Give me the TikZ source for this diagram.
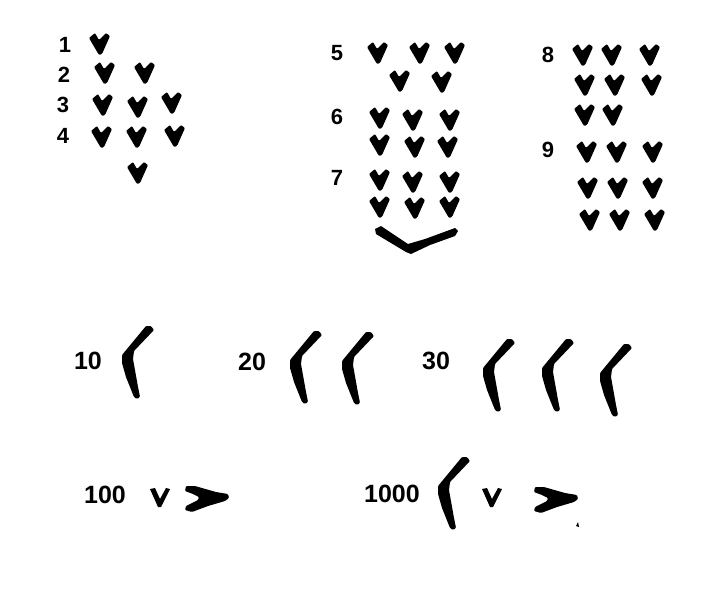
\documentclass[tikz,border=0pt]{standalone}
\usepackage{fontspec}
\setmainfont{Liberation Sans}
\usepackage{tikz}
\usetikzlibrary{positioning}

% upright wedge (units)
\newcommand{\unitwedge}[1]{\fill[shift={#1}, rounded corners=1pt] (-11,-6) -- (-5,-11) -- (-1,-4) -- (6,-11) -- (10,-8) -- (2,10) -- (-1,11) -- cycle;}
% thin upright wedge
\newcommand{\thinwedge}[1]{\fill[shift={#1}] (-10,-8) -- (-5,-9) -- (0,2) -- (6,-9) -- (10,-8) -- (1,10) -- (-2,10) -- cycle;}
% corner wedge (tens), given by its bend
\newcommand{\tenwedge}[1]{\fill[shift={#1}, rounded corners=1pt] (19,-31) -- (24,-31) -- (27,-27) -- (7,-6) -- (6,2) -- (11,30) -- (13,40) -- (10,42) -- (7,40) -- (-1,20) -- (-5,6) -- (-5,-2) -- cycle;}
% lying wedge, given by its tip
\newcommand{\sidewedge}[1]{\fill[shift={#1}, rounded corners=1pt] (-42,-11) -- (-33,-11) -- (-12,-5) -- (0,-3) -- (1,1) -- (-3,4) -- (-20,9) -- (-36,15) -- (-43,13) -- (-42,9) -- (-30,3) -- (-29,0) -- (-35,-3) -- (-43,-6) -- cycle;}

\tikzset{
    numlabel/.style={inner sep=0pt, font=\bfseries\fontsize{22}{22}\selectfont},
    biglabel/.style={inner sep=0pt, font=\bfseries\fontsize{25}{25}\selectfont}
}

\begin{document}
\begin{tikzpicture}[x=1pt, y=-1pt]
    \useasboundingbox[fill=white] (0,0) rectangle (719,595);

    % units 1 to 9
    \node[numlabel] (one) at (65,45) {1};
    \node[numlabel] (two) at (64,75) {2};
    \node[numlabel] (three) at (63,105) {3};
    \node[numlabel] (four) at (63,136) {4};
    \node[numlabel] (five) at (337,53) {5};
    \node[numlabel] (six) at (337,117) {6};
    \node[numlabel] (seven) at (337,178) {7};
    \node[numlabel] (eight) at (548,55) {8};
    \node[numlabel] (nine) at (548,150) {9};

    \foreach \x/\y in {100/44, 105/73, 145/73, 103/105, 138/107, 172/103,
                       102/137, 137/137, 175/136, 138/173}
        \unitwedge{(\x,\y)};
    \foreach \x/\y in {378/53, 420/53, 455/53, 400/81, 442/82,
                       380/118, 413/120, 450/120, 380/145, 415/147, 448/147,
                       380/180, 413/182, 450/182, 380/207, 415/208, 450/207}
        \unitwedge{(\x,\y)};
    \foreach \x/\y in {583/55, 612/55, 650/55, 585/85, 615/85, 652/85, 585/115, 613/115,
                       587/152, 617/152, 653/152, 588/188, 618/188, 653/188,
                       590/220, 620/220, 655/220}
        \unitwedge{(\x,\y)};

    % bracket under 7
    \fill (375,229) -- (381,226) -- (396,236) -- (408,244) -- (425,239) -- (455,228)
        -- (458,231) -- (455,236) -- (430,245) -- (411,254) -- (406,252) -- (391,243)
        -- (376,234) -- cycle;

    % tens
    \node[biglabel] (ten) at (88,361) {10};
    \node[biglabel] (twenty) at (252,362) {20};
    \node[biglabel] (thirty) at (436,361) {30};
    \foreach \x/\y in {127/357, 295/362, 347/363, 488/370, 547/370, 605/375}
        \tenwedge{(\x,\y)};

    % hundred and thousand
    \node[biglabel] (hundred) at (105,495) {100};
    \node[biglabel] (thousand) at (392,494) {1000};
    \thinwedge{(160,497)};
    \sidewedge{(228,497)};
    \tenwedge{(443,488)};
    \thinwedge{(492,497)};
    \sidewedge{(577,498)};
    \fill (576,526) -- (578,522) -- (579,527) -- cycle;
\end{tikzpicture}
\end{document}
